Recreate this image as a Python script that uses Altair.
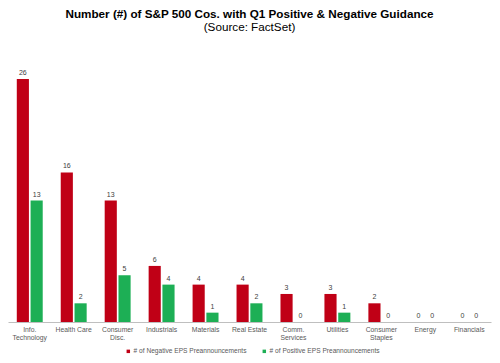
import altair as alt
import pandas as pd

sectors = ["Info. Technology", "Health Care", "Consumer Disc.", "Industrials", "Materials",
           "Real Estate", "Comm. Services", "Utilities", "Consumer Staples", "Energy", "Financials"]
negative = [26, 16, 13, 6, 4, 4, 3, 3, 2, 0, 0]
positive = [13, 2, 5, 4, 1, 2, 0, 1, 0, 0, 0]
series = ["# of Negative EPS Preannouncements", "# of Positive EPS Preannouncements"]
colors = ["#C00016", "#1DAF55"]

rows = []
for s, n, p in zip(sectors, negative, positive):
    rows.append({"sector": s, "series": series[0], "value": n})
    rows.append({"sector": s, "series": series[1], "value": p})
df = pd.DataFrame(rows)

font = "Liberation Sans"

x = alt.X("sector:N", sort=sectors, title=None,
          scale=alt.Scale(paddingInner=0.41, paddingOuter=0.2),
          axis=alt.Axis(labelAngle=0, ticks=False, domainColor="#BFBFBF", labelColor="#595959",
                        labelFontSize=6.8, labelFont=font, labelPadding=4, labelLineHeight=8,
                        labelExpr="indexof(['Health Care','Real Estate'], datum.label) >= 0 ? datum.label : split(datum.label, ' ')"))
xo = alt.XOffset("series:N", sort=series, scale=alt.Scale(paddingInner=0.12))
y = alt.Y("value:Q", scale=alt.Scale(domain=[0, 26], nice=False), axis=None)

bars = alt.Chart(df).mark_bar().encode(
    x=x, xOffset=xo, y=y,
    color=alt.Color("series:N", sort=series, scale=alt.Scale(domain=series, range=colors),
                    legend=alt.Legend(orient="none", legendX=117, legendY=269,
                                      direction="horizontal", title=None,
                                      symbolType="square", symbolSize=12, labelFontSize=6.6,
                                      labelFont=font, labelColor="#595959", columnPadding=14,
                                      labelOffset=2, symbolStrokeWidth=0)),
)
labels = alt.Chart(df).mark_text(dy=-6, fontSize=7, font=font, color="#404040").encode(
    x=x, xOffset=xo, y=y, text="value:Q")

chart = alt.layer(bars, labels).properties(
    width=483, height=243,
    title=alt.TitleParams("Number (#) of S&P 500 Cos. with Q1 Positive & Negative Guidance",
                          subtitle="(Source: FactSet)", font=font, fontSize=11.7, fontWeight="bold",
                          color="#000000", subtitleFont=font, subtitleFontSize=11.7,
                          subtitleColor="#000000", anchor="middle", offset=35, subtitlePadding=2),
    autosize=alt.AutoSizeParams(type="none"),
    padding={"left": 0, "top": 71, "right": 1, "bottom": 33},
).configure_view(stroke=None)

chart.save("out.html", embed_options={"renderer": "svg", "actions": False})
